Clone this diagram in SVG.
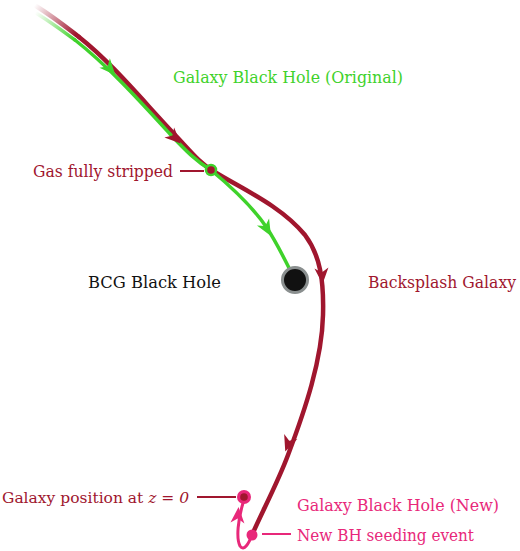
<svg xmlns="http://www.w3.org/2000/svg" width="520" height="551" viewBox="0 0 520 551">
<defs>
<style>
text{font-family:'DejaVu Serif',serif;font-size:16px}
.red{fill:#a0162e}.grn{fill:#3fd22b}.pnk{fill:#e8287a}
.lr{fill:none;stroke:#a0162e;stroke-width:4.5;stroke-linecap:round;stroke-linejoin:round}
.lg{fill:none;stroke:#3fd22b;stroke-width:3.5;stroke-linecap:round;stroke-linejoin:round}
.lp{fill:none;stroke:#e8287a;stroke-width:3;stroke-linecap:round}
.ld{stroke:#a0162e;stroke-width:2}
</style>
<linearGradient id="fr" gradientUnits="userSpaceOnUse" x1="35" y1="5" x2="75" y2="35">
<stop offset="0" stop-color="#a0162e" stop-opacity="0"/><stop offset="1" stop-color="#a0162e"/></linearGradient>
<linearGradient id="fg" gradientUnits="userSpaceOnUse" x1="36" y1="12" x2="75" y2="40">
<stop offset="0" stop-color="#3fd22b" stop-opacity="0"/><stop offset="1" stop-color="#3fd22b"/></linearGradient>
<path id="ah" d="M8 0 L-8 -7 L-3.5 0 L-8 7 Z"/>
</defs>
<rect width="520" height="551" fill="#fff"/>
<g id="connectors">
<path d="M36 6 C55 18 66 27 79 37" fill="none" stroke="url(#fr)" stroke-width="4.5" stroke-linecap="round"/>
<path class="lr" d="M79 37 C112 63 142 100 177 137 C192 153 200 163 213 171 C242 189 280 205 305 235 C320 255 324 280 323 315 C322 360 305 410 288 455 C278 482 262 512 252 535"/>
<path d="M36 13 C55 25 64 32 75 40" fill="none" stroke="url(#fg)" stroke-width="3.5" stroke-linecap="round"/>
<path class="lg" d="M75 40 C108 66 138 99 170 134 C186 151 197 162 211 170 C235 190 255 210 267 228 C278 245 286 262 292 274"/>
<path class="lp" d="M252 535 C249 543 244 552 240 546 C236 538 238 520 243 503"/>
<use href="#ah" class="grn" transform="translate(110,69) rotate(48)"/>
<use href="#ah" class="red" transform="translate(175,138) rotate(44)"/>
<use href="#ah" class="grn" transform="translate(267,229) rotate(60)"/>
<use href="#ah" class="red" transform="translate(322,276) rotate(86)"/>
<use href="#ah" class="red" transform="translate(288,444) rotate(110)"/>
<use href="#ah" class="pnk" transform="translate(238,515) rotate(-86)"/>
<line class="ld" x1="180" y1="171" x2="204" y2="171"/>
<line class="ld" x1="197" y1="497" x2="236" y2="497"/>
<line x1="262" y1="534" x2="291" y2="534" stroke="#e8287a" stroke-width="2"/>
</g>
<g id="gas-stripped">
<circle cx="211" cy="170" r="5" fill="#a0162e" stroke="#3fd22b" stroke-width="2.5"/>
<text class="red" x="33" y="177" textLength="140" lengthAdjust="spacingAndGlyphs">Gas fully stripped</text>
</g>
<g id="bcg-bh">
<circle cx="295" cy="280" r="12.5" fill="#111" stroke="#8a8f8f" stroke-width="3"/>
<text x="88" y="288" fill="#111" textLength="133" lengthAdjust="spacingAndGlyphs">BCG Black Hole</text>
</g>
<g id="galaxy-bh-original">
<text class="grn" x="173" y="83" textLength="230" lengthAdjust="spacingAndGlyphs">Galaxy Black Hole (Original)</text>
</g>
<g id="backsplash">
<text class="red" x="368" y="288" textLength="148" lengthAdjust="spacingAndGlyphs">Backsplash Galaxy</text>
</g>
<g id="galaxy-z0">
<circle cx="244" cy="497" r="7" fill="#e8287a"/>
<circle cx="244" cy="497" r="3.8" fill="#a0162e"/>
<text class="red" x="2" y="503" style="font-size:15.5px">Galaxy position at <tspan font-style="italic">z</tspan> = <tspan font-style="italic">0</tspan></text>
</g>
<g id="galaxy-bh-new">
<text class="pnk" x="297" y="511" textLength="202" lengthAdjust="spacingAndGlyphs">Galaxy Black Hole (New)</text>
</g>
<g id="seeding">
<circle cx="252" cy="535" r="5.5" fill="#e8287a"/>
<text class="pnk" x="297" y="541" textLength="177" lengthAdjust="spacingAndGlyphs">New BH seeding event</text>
</g>
</svg>
